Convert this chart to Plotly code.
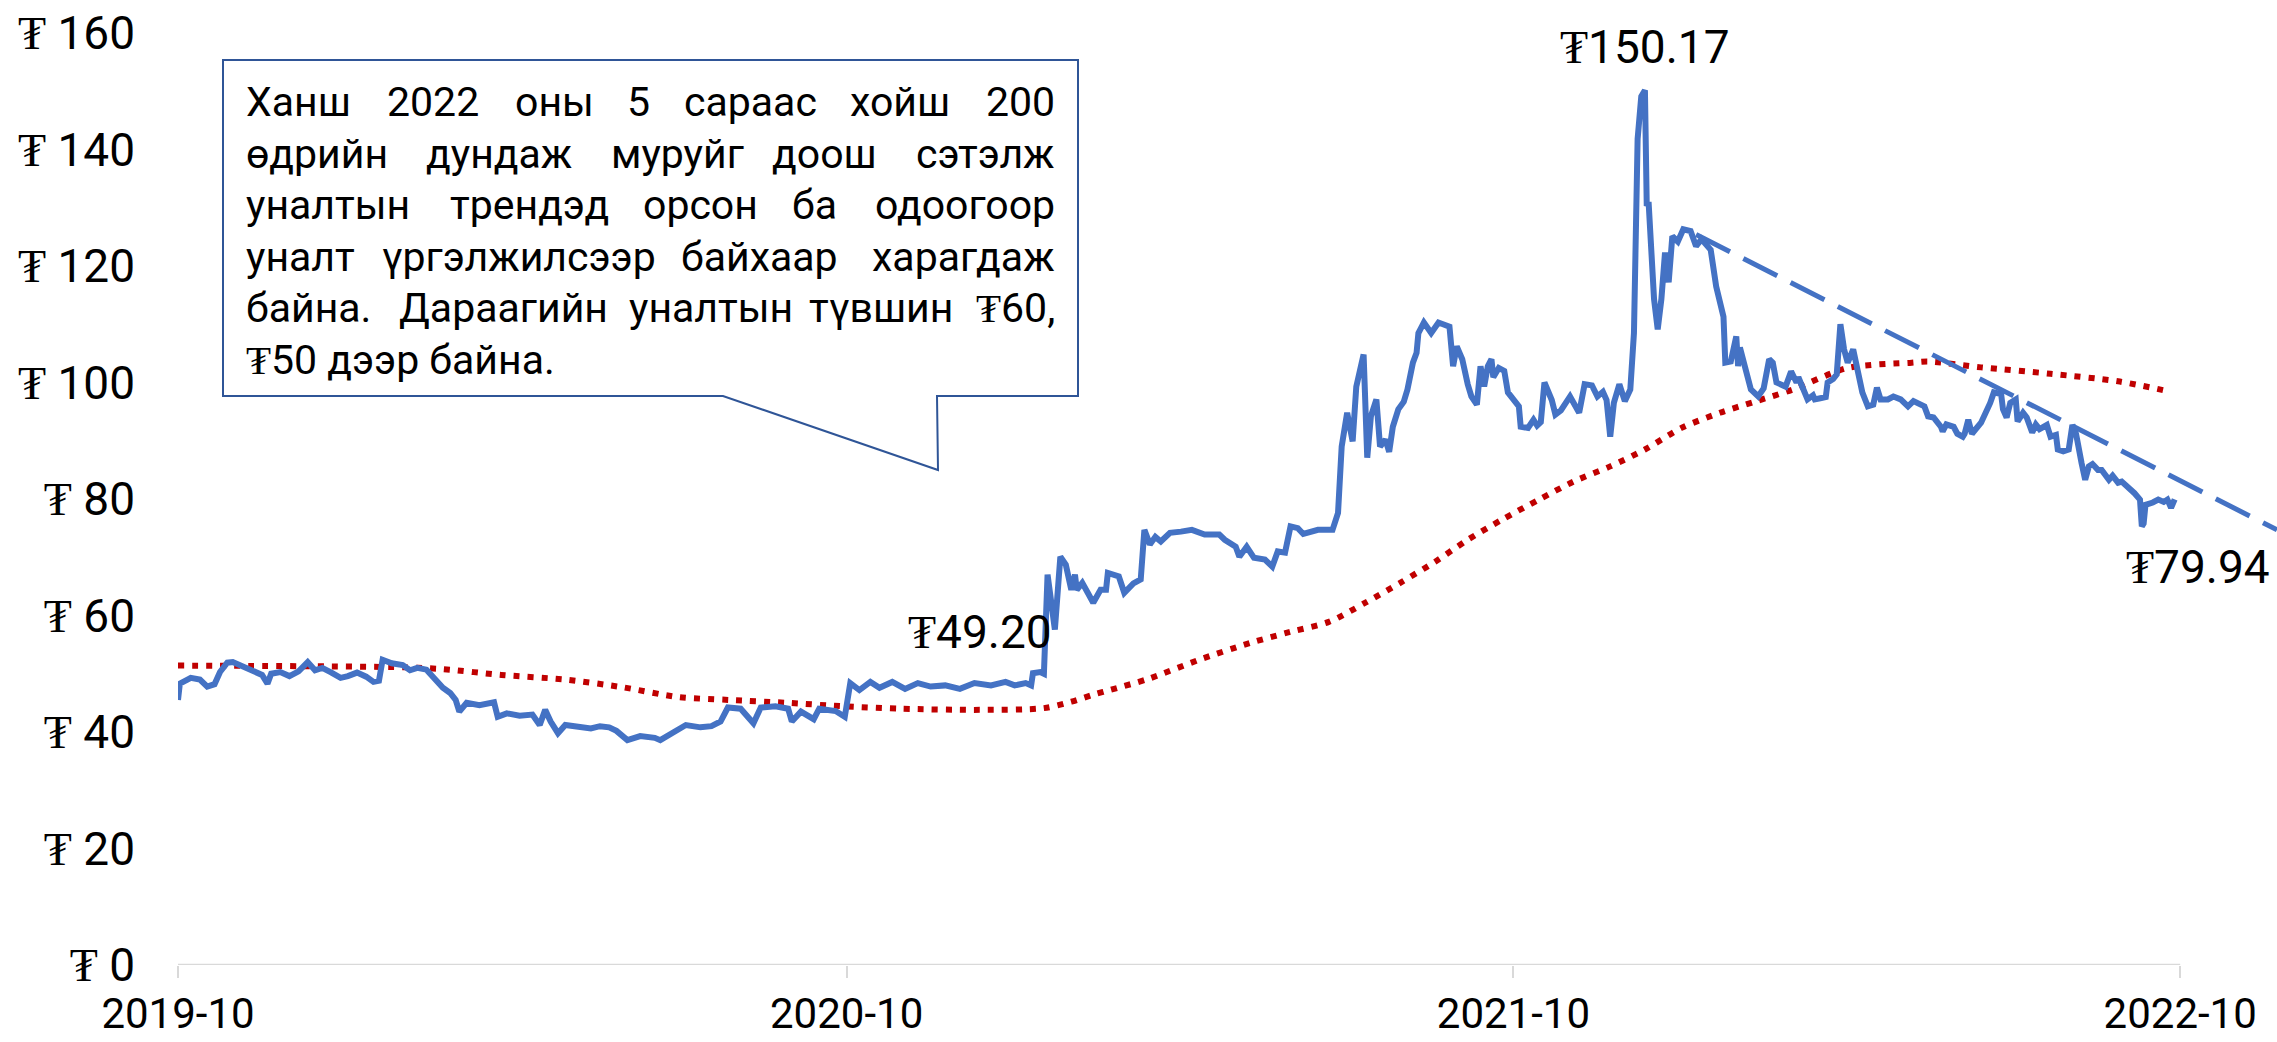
import plotly.graph_objects as go

# ---------------- data ----------------
price_dates = [
    "2019-10-01", "2019-10-02", "2019-10-08", "2019-10-13", "2019-10-17", "2019-10-21", "2019-10-24", "2019-10-28", "2019-10-31", "2019-11-09",
    "2019-11-16", "2019-11-19", "2019-11-21", "2019-11-26", "2019-12-01", "2019-12-06", "2019-12-11", "2019-12-15", "2019-12-19", "2019-12-24",
    "2019-12-29", "2020-01-02", "2020-01-07", "2020-01-12", "2020-01-16", "2020-01-19", "2020-01-21", "2020-01-26", "2020-02-01", "2020-02-05",
    "2020-02-09", "2020-02-14", "2020-02-18", "2020-02-23", "2020-02-27", "2020-03-01", "2020-03-03", "2020-03-07", "2020-03-14", "2020-03-22",
    "2020-03-24", "2020-03-29", "2020-04-05", "2020-04-12", "2020-04-16", "2020-04-19", "2020-04-22", "2020-04-26", "2020-04-30", "2020-05-07",
    "2020-05-14", "2020-05-19", "2020-05-24", "2020-05-28", "2020-05-31", "2020-06-03", "2020-06-10", "2020-06-18", "2020-06-21", "2020-06-27",
    "2020-07-01", "2020-07-05", "2020-07-13", "2020-07-19", "2020-07-24", "2020-07-28", "2020-08-04", "2020-08-11", "2020-08-15", "2020-08-23",
    "2020-08-30", "2020-09-01", "2020-09-06", "2020-09-13", "2020-09-16", "2020-09-25", "2020-09-30", "2020-10-03", "2020-10-08", "2020-10-14",
    "2020-10-19", "2020-10-26", "2020-11-02", "2020-11-09", "2020-11-16", "2020-11-24", "2020-12-02", "2020-12-10", "2020-12-19", "2020-12-27",
    "2021-01-01", "2021-01-07", "2021-01-10", "2021-01-11", "2021-01-15", "2021-01-17", "2021-01-19", "2021-01-21", "2021-01-23", "2021-01-26",
    "2021-01-29", "2021-02-01", "2021-02-03", "2021-02-04", "2021-02-07", "2021-02-10", "2021-02-13", "2021-02-17", "2021-02-20", "2021-02-21",
    "2021-02-27", "2021-03-02", "2021-03-07", "2021-03-11", "2021-03-13", "2021-03-16", "2021-03-19", "2021-03-22", "2021-03-27", "2021-04-02",
    "2021-04-08", "2021-04-15", "2021-04-23", "2021-04-26", "2021-05-02", "2021-05-04", "2021-05-08", "2021-05-12", "2021-05-18", "2021-05-22",
    "2021-05-25", "2021-05-29", "2021-06-01", "2021-06-05", "2021-06-08", "2021-06-16", "2021-06-24", "2021-06-27", "2021-06-29", "2021-07-02",
    "2021-07-05", "2021-07-07", "2021-07-11", "2021-07-13", "2021-07-15", "2021-07-18", "2021-07-20", "2021-07-23", "2021-07-25", "2021-07-27",
    "2021-07-30", "2021-08-02", "2021-08-04", "2021-08-07", "2021-08-09", "2021-08-10", "2021-08-13", "2021-08-17", "2021-08-21", "2021-08-27",
    "2021-08-29", "2021-08-31", "2021-09-03", "2021-09-06", "2021-09-08", "2021-09-11", "2021-09-13", "2021-09-15", "2021-09-17", "2021-09-19",
    "2021-09-20", "2021-09-23", "2021-09-26", "2021-09-28", "2021-10-01", "2021-10-04", "2021-10-05", "2021-10-09", "2021-10-12", "2021-10-14",
    "2021-10-16", "2021-10-18", "2021-10-20", "2021-10-22", "2021-10-24", "2021-10-27", "2021-11-01", "2021-11-03", "2021-11-06", "2021-11-09",
    "2021-11-13", "2021-11-16", "2021-11-19", "2021-11-21", "2021-11-23", "2021-11-25", "2021-11-28", "2021-12-01", "2021-12-04", "2021-12-06",
    "2021-12-07", "2021-12-08", "2021-12-10", "2021-12-12", "2021-12-13", "2021-12-14", "2021-12-17", "2021-12-19", "2021-12-21", "2021-12-23",
    "2021-12-25", "2021-12-27", "2021-12-30", "2022-01-02", "2022-01-06", "2022-01-09", "2022-01-12", "2022-01-17", "2022-01-20", "2022-01-24",
    "2022-01-25", "2022-01-28", "2022-01-31", "2022-02-01", "2022-02-02", "2022-02-05", "2022-02-08", "2022-02-12", "2022-02-15", "2022-02-18",
    "2022-02-20", "2022-02-22", "2022-02-27", "2022-03-02", "2022-03-05", "2022-03-06", "2022-03-11", "2022-03-14", "2022-03-15", "2022-03-18",
    "2022-03-21", "2022-03-22", "2022-03-25", "2022-03-27", "2022-03-29", "2022-03-31", "2022-04-02", "2022-04-05", "2022-04-07", "2022-04-10",
    "2022-04-13", "2022-04-16", "2022-04-18", "2022-04-20", "2022-04-24", "2022-04-27", "2022-05-01", "2022-05-05", "2022-05-08", "2022-05-10",
    "2022-05-14", "2022-05-16", "2022-05-19", "2022-05-23", "2022-05-24", "2022-05-26", "2022-05-30", "2022-06-01", "2022-06-04", "2022-06-05",
    "2022-06-07", "2022-06-09", "2022-06-14", "2022-06-19", "2022-06-21", "2022-06-25", "2022-06-26", "2022-06-28", "2022-06-30", "2022-07-03",
    "2022-07-04", "2022-07-07", "2022-07-09", "2022-07-12", "2022-07-14", "2022-07-16", "2022-07-20", "2022-07-22", "2022-07-25", "2022-07-26",
    "2022-07-29", "2022-08-01", "2022-08-03", "2022-08-05", "2022-08-06", "2022-08-08", "2022-08-10", "2022-08-12", "2022-08-14", "2022-08-17",
    "2022-08-19", "2022-08-21", "2022-08-23", "2022-08-25", "2022-08-28", "2022-08-30", "2022-09-03", "2022-09-06", "2022-09-09", "2022-09-10",
    "2022-09-11", "2022-09-12", "2022-09-16", "2022-09-19", "2022-09-22", "2022-09-24", "2022-09-26", "2022-09-28",
]
price_values = [
    45.5, 48.3, 49.3, 49.0, 47.8, 48.2, 50.3, 51.9, 52.0, 50.8,
    49.8, 48.3, 50.0, 50.3, 49.6, 50.4, 52.0, 50.6, 51.0, 50.2,
    49.3, 49.6, 50.2, 49.5, 48.6, 48.8, 52.4, 51.8, 51.5, 50.6,
    51.0, 50.7, 49.3, 47.6, 46.7, 45.5, 43.5, 45.0, 44.6, 45.1,
    42.6, 43.2, 42.8, 43.0, 41.2, 43.8, 41.8, 39.8, 41.2, 40.9,
    40.6, 41.0, 40.8, 40.2, 39.5, 38.6, 39.3, 39.0, 38.6, 39.6,
    40.4, 41.2, 40.8, 41.0, 41.8, 44.2, 44.0, 41.5, 44.2, 44.4,
    44.0, 41.8, 43.5, 42.2, 44.0, 43.6, 42.6, 48.4, 47.2, 48.6,
    47.6, 48.6, 47.4, 48.4, 47.8, 48.0, 47.4, 48.4, 48.0, 48.6,
    48.0, 48.4, 48.0, 50.1, 50.3, 50.0, 67.0, 62.0, 57.6, 70.1,
    68.7, 64.4, 67.0, 64.4, 65.6, 63.9, 62.2, 64.4, 64.4, 67.3,
    66.7, 63.9, 65.5, 66.2, 74.7, 72.2, 73.5, 72.7, 74.2, 74.4,
    74.7, 73.9, 73.9, 73.0, 71.8, 70.1, 71.8, 69.9, 69.6, 68.4,
    71.0, 70.8, 75.3, 75.0, 74.0, 74.7, 74.7, 77.6, 89.0, 94.8,
    89.9, 99.3, 104.8, 87.1, 94.2, 97.1, 89.0, 90.2, 88.1, 92.4,
    95.4, 96.7, 98.8, 103.4, 105.1, 108.5, 110.3, 108.5, 110.3, 109.6,
    102.8, 106.2, 104.0, 99.7, 97.6, 96.2, 102.8, 99.3, 102.8, 104.0,
    100.9, 102.5, 102.0, 98.3, 97.1, 95.9, 92.4, 92.2, 93.6, 92.6,
    93.2, 100.0, 98.5, 97.0, 94.5, 95.2, 97.6, 96.5, 94.8, 99.7,
    99.5, 97.6, 98.4, 97.0, 90.7, 96.5, 99.7, 96.8, 98.8, 108.5,
    131.4, 141.8, 149.1, 150.17, 130.3, 131.0, 114.3, 109.1, 114.3, 122.3,
    117.2, 125.1, 124.2, 126.3, 126.0, 123.4, 124.6, 122.8, 116.5, 111.3,
    103.4, 103.6, 107.9, 102.8, 106.0, 102.8, 98.8, 97.6, 99.0, 104.0,
    103.4, 100.0, 99.3, 101.9, 100.0, 100.9, 97.1, 97.8, 97.1, 97.3,
    97.5, 100.0, 100.6, 101.4, 110.0, 105.7, 103.4, 105.7, 103.0, 98.3,
    95.9, 96.2, 99.1, 97.1, 97.1, 97.6, 97.1, 95.9, 96.8, 96.5,
    95.9, 94.2, 94.0, 92.4, 91.6, 92.8, 92.4, 91.2, 90.7, 91.2,
    93.6, 91.2, 93.1, 96.5, 98.3, 98.0, 95.4, 94.0, 96.5, 97.1,
    93.3, 94.8, 94.0, 91.4, 92.8, 92.0, 92.7, 90.7, 91.0, 88.5,
    88.2, 88.5, 92.7, 91.2, 89.0, 86.2, 83.3, 85.6, 86.0, 85.0,
    85.0, 84.2, 83.3, 84.0, 82.8, 83.0, 81.9, 81.0, 79.9, 75.3,
    75.8, 79.0, 79.4, 79.9, 79.5, 79.9, 78.5, 79.94,
]

# 200-day moving average (red dotted)
ma_dates = [
    "2019-10-01", "2019-12-07", "2020-02-02", "2020-02-23", "2020-03-26", "2020-04-30", "2020-05-31",
    "2020-07-01", "2020-07-29", "2020-08-30", "2020-09-30", "2020-10-31", "2020-12-13", "2021-01-17",
    "2021-02-01", "2021-02-13", "2021-02-22", "2021-03-15", "2021-04-12", "2021-05-10", "2021-06-01",
    "2021-06-22", "2021-07-12", "2021-07-31", "2021-08-19", "2021-09-06", "2021-09-25", "2021-10-15",
    "2021-11-03", "2021-11-23", "2021-12-12", "2022-01-01", "2022-01-22", "2022-02-10", "2022-03-03",
    "2022-04-02", "2022-05-07", "2022-05-16", "2022-06-14", "2022-07-22", "2022-08-28", "2022-09-26",
]
ma_values = [
    51.4, 51.3, 51.1, 50.8, 49.8, 49.0, 47.7,
    46.0, 45.5, 45.0, 44.4, 44.0, 43.8, 44.1,
    45.2, 46.4, 47.2, 49.1, 52.4, 55.3, 57.2,
    58.9, 62.2, 65.6, 69.2, 73.0, 76.5, 79.9,
    83.0, 85.6, 88.5, 92.2, 94.8, 96.7, 98.8,
    102.5, 103.4, 103.6, 102.6, 101.5, 100.2, 98.4,
]

# downward trend line (blue dashed)
trend_dates = ["2022-01-09", "2022-11-23"]
trend_values = [125.4, 74.7]

x_tick_dates = ["2019-10-01", "2020-10-01", "2021-10-01", "2022-10-01"]
x_tick_labels = ["2019-10", "2020-10", "2021-10", "2022-10"]
y_tick_values = [0, 20, 40, 60, 80, 100, 120, 140, 160]
y_tick_labels = ["₮ " + str(v) for v in y_tick_values]

peak_label = ("2021-12-12", "₮150.17")
mid_label = "₮49.20"
last_label = ("2022-09-28", 79.94, "₮79.94")

callout_lines = [
    ["Ханш", "2022", "оны", "5", "сараас", "хойш", "200"],
    ["өдрийн", "дундаж", "муруйг", "доош", "сэтэлж"],
    ["уналтын", "трендэд", "орсон", "ба", "одоогоор"],
    ["уналт", "үргэлжилсээр", "байхаар", "харагдаж"],
    ["байна.", "Дараагийн", "уналтын", "түвшин", "₮60,"],
    ["₮50 дээр байна."],
]
# approximate centres (px) of middle words in the justified callout text
callout_mid_centres = [
    [433, 554, 638, 750, 900],
    [499, 677, 824],
    [529, 700, 814],
    [519, 759],
    [503, 711, 881],
    [],
]

# ---------------- layout helpers ----------------
W, H = 2277, 1042
ML, MR, MT, MB = 178, 0, 33, 77
PW, PH = W - ML - MR, H - MT - MB


def px(x):
    return (x - ML) / PW


def py(y):
    return (H - MB - y) / PH


FONT = "Roboto, 'DejaVu Serif', serif"
BLUE = "#4472C4"
RED = "#C00000"

fig = go.Figure()

fig.add_trace(go.Scatter(
    x=ma_dates, y=ma_values, mode="lines",
    line=dict(color=RED, width=6, dash="6px,8px", shape="spline", smoothing=0.8),
    hoverinfo="skip",
))
fig.add_trace(go.Scatter(
    x=price_dates, y=price_values, mode="lines",
    line=dict(color=BLUE, width=6),
))
fig.add_trace(go.Scatter(
    x=trend_dates, y=trend_values, mode="lines",
    line=dict(color=BLUE, width=5, dash="38px,15px"),
))

shapes = []
# x-axis base line from first to last tick
shapes.append(dict(type="line", xref="x", yref="y", x0=x_tick_dates[0], x1=x_tick_dates[-1],
                   y0=0, y1=0, line=dict(color="#D9D9D9", width=2.5), layer="below"))
# callout box with tail
bl, br, bt, bb = 223, 1078, 60, 396
t1, t2, tipx, tipy = 723, 937, 938, 470
path = (f"M {px(bl)},{py(bt)} L {px(br)},{py(bt)} L {px(br)},{py(bb)} L {px(t2)},{py(bb)} "
        f"L {px(tipx)},{py(tipy)} L {px(t1)},{py(bb)} L {px(bl)},{py(bb)} Z")
shapes.append(dict(type="path", xref="paper", yref="paper", path=path,
                   fillcolor="white", line=dict(color="#2F5597", width=2), layer="above"))

annotations = []
annotations.append(dict(x=peak_label[0], y=(H - MB - 47) / PH * 160, xref="x", yref="y",
                        text=peak_label[1], showarrow=False,
                        font=dict(family=FONT, size=46, color="black")))
annotations.append(dict(x=px(980), y=py(632), xref="paper", yref="paper",
                        text=mid_label, showarrow=False,
                        font=dict(family=FONT, size=46, color="black")))
annotations.append(dict(x=last_label[0], y=last_label[1], xref="x", yref="y",
                        text=last_label[2], showarrow=True, arrowhead=0, arrowwidth=1.5,
                        arrowcolor="#A6A6A6", ax=23, ay=68, standoff=2,
                        font=dict(family=FONT, size=46, color="black")))

text_left, text_right = 244, 1057
line_y0, line_step = 102, 51.6
for i, words in enumerate(callout_lines):
    yy = py(line_y0 + i * line_step)
    if len(words) == 1:
        annotations.append(dict(x=px(text_left), y=yy, xref="paper", yref="paper", xanchor="left",
                                yanchor="middle", text=words[0], showarrow=False,
                                font=dict(family=FONT, size=41, color="black")))
        continue
    annotations.append(dict(x=px(text_left), y=yy, xref="paper", yref="paper", xanchor="left",
                            yanchor="middle", text=words[0], showarrow=False,
                            font=dict(family=FONT, size=41, color="black")))
    annotations.append(dict(x=px(text_right), y=yy, xref="paper", yref="paper", xanchor="right",
                            yanchor="middle", text=words[-1], showarrow=False,
                            font=dict(family=FONT, size=41, color="black")))
    for w, c in zip(words[1:-1], callout_mid_centres[i]):
        annotations.append(dict(x=px(c), y=yy, xref="paper", yref="paper", xanchor="center",
                                yanchor="middle", text=w, showarrow=False,
                                font=dict(family=FONT, size=41, color="black")))

fig.update_layout(
    width=W, height=H,
    margin=dict(l=ML, r=MR, t=MT, b=MB, autoexpand=False),
    paper_bgcolor="white", plot_bgcolor="white",
    showlegend=False,
    font=dict(family=FONT, size=46, color="black"),
    shapes=shapes,
    annotations=annotations,
    xaxis=dict(
        type="date", range=["2019-10-01", "2022-11-23"],
        tickvals=x_tick_dates, ticktext=x_tick_labels,
        ticks="outside", ticklen=12, tickwidth=1.5, tickcolor="#D9D9D9",
        showgrid=False, zeroline=False, showline=False,
        tickfont=dict(family=FONT, size=42, color="black"),
        ticklabelstandoff=0,
    ),
    yaxis=dict(
        range=[0, 160], tickvals=y_tick_values, ticktext=y_tick_labels,
        ticks="", showgrid=False, zeroline=False, showline=False,
        tickfont=dict(family=FONT, size=46, color="black"),
        ticklabelstandoff=42,
    ),
)

fig.write_html("out.html", config={"displayModeBar": False},
               post_script="document.body.style.margin='0';")
